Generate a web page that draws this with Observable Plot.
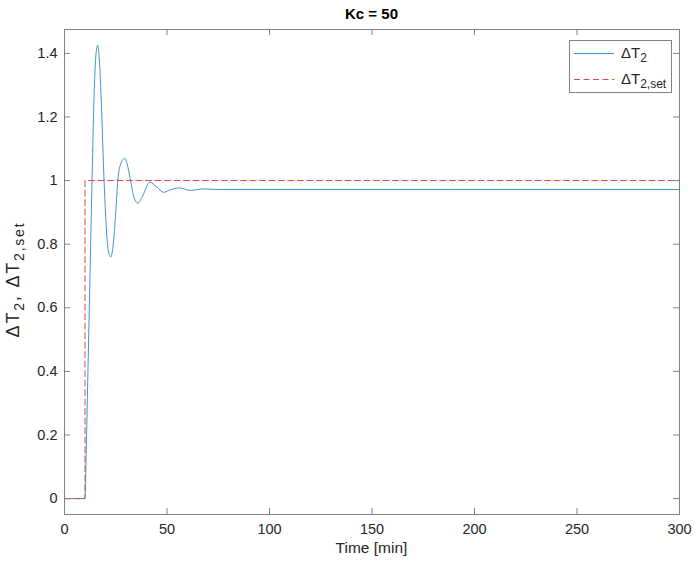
<!DOCTYPE html>
<html><head><meta charset="utf-8">
<script src="https://cdn.jsdelivr.net/npm/d3@7"></script>
<script src="https://cdn.jsdelivr.net/npm/@observablehq/plot@0.6"></script>
<style>body{margin:0;background:#fff} svg{display:block}</style>
</head><body><div id="chart"></div>
<script>
// Response ΔT2
const time = [0, 10, 10.6, 11.5, 12.5, 13.6, 14.5, 15.4, 16.2, 17.0, 18.0, 19.3, 20.4, 21.5, 22.6, 23.8, 25, 26, 27.3, 29.4, 31, 32.2, 34, 35.8, 38, 41.6, 45, 48.4, 52, 55.8, 61.5, 68, 75, 300];
const dT2  = [0, 0, 0.15, 0.42, 0.72, 1.05, 1.28, 1.40, 1.425, 1.38, 1.24, 1.0, 0.85, 0.775, 0.76, 0.80, 0.90, 1.0, 1.05, 1.07, 1.04, 1.0, 0.945, 0.929, 0.95, 0.995, 0.98, 0.963, 0.972, 0.977, 0.969, 0.974, 0.972, 0.972];
// Setpoint ΔT2,set
const setTime = [0, 10, 10, 300];
const setVal  = [0, 0, 1, 1];
const xTicks = [0, 50, 100, 150, 200, 250, 300];
const yTicks = [0, 0.2, 0.4, 0.6, 0.8, 1, 1.2, 1.4];
const titleText = "Kc = 50";
const xLabel = "Time [min]";

const W = 696, H = 564, mL = 64, mR = 17, mT = 29, mB = 50;
const iw = W - mL - mR, ih = H - mT - mB;
const font = "'Liberation Sans', Arial, Helvetica, sans-serif";
const axisColor = "#808080";
const blue = "#3d95c8", red = "#d84a4a";
const resp = time.map((t, i) => ({t, v: dT2[i]}));
const sp = setTime.map((t, i) => ({t, v: setVal[i]}));

const chart = Plot.plot({
  width: W, height: H, marginLeft: mL, marginRight: mR, marginTop: mT, marginBottom: mB,
  style: {fontFamily: font, fontSize: "14px", color: "#262626", background: "#fff"},
  x: {domain: [0, 300]},
  y: {domain: [-0.05, 1.475]},
  marks: [
    Plot.line(resp, {x: "t", y: "v", stroke: blue, strokeWidth: 1, curve: "monotone-x"}),
    Plot.line(sp, {x: "t", y: "v", stroke: red, strokeWidth: 1, strokeDasharray: "6,3.5"}),
    Plot.frame({stroke: axisColor}),
    Plot.tickX(xTicks, {x: d => d, stroke: axisColor, insetTop: ih - 6}),
    Plot.tickX(xTicks, {x: d => d, stroke: axisColor, insetBottom: ih - 6}),
    Plot.tickY(yTicks, {y: d => d, stroke: axisColor, insetRight: iw - 6}),
    Plot.tickY(yTicks, {y: d => d, stroke: axisColor, insetLeft: iw - 6}),
    Plot.axisX(xTicks, {tickSize: 0, tickPadding: 9, label: null, fontSize: 14.5, tickFormat: d => String(d)}),
    Plot.axisY(yTicks, {tickSize: 0, tickPadding: 7, label: null, fontSize: 14.5, tickFormat: d => String(d)})
  ]
});
document.getElementById("chart").appendChild(chart);

const svg = d3.select(chart);
svg.append("text").attr("x", mL + iw / 2).attr("y", 19).attr("text-anchor", "middle")
  .attr("font-family", font).attr("font-weight", "bold").attr("font-size", 15).attr("fill", "#000").text(titleText);
svg.append("text").attr("x", mL + iw / 2).attr("y", 553).attr("text-anchor", "middle")
  .attr("font-family", font).attr("font-size", 15.5).attr("fill", "#262626").text(xLabel);

function subText(sel, parts, subSize, shift) {
  let prevSub = false;
  parts.forEach(([s, sub]) => {
    const t = sel.append("tspan").text(s);
    if (sub) { t.attr("font-size", subSize).attr("dy", shift); prevSub = true; }
    else { t.attr("dy", prevSub ? -shift : 0); prevSub = false; }
  });
}
const yl = svg.append("text").attr("transform", `translate(19,${mT + ih / 2 + 8}) rotate(-90)`)
  .attr("text-anchor", "middle").attr("font-family", font).attr("font-size", 18).attr("fill", "#262626")
  .attr("letter-spacing", 1.8);
subText(yl, [["ΔT"], ["2", true], [", ΔT"], ["2,set", true]], 14, 5);

// legend
const lg = svg.append("g");
lg.append("rect").attr("x", 569.5).attr("y", 40.5).attr("width", 102).attr("height", 52)
  .attr("fill", "#fff").attr("stroke", axisColor).attr("stroke-width", 1);
lg.append("line").attr("x1", 574).attr("x2", 614).attr("y1", 53.5).attr("y2", 53.5)
  .attr("stroke", blue).attr("stroke-width", 1);
lg.append("line").attr("x1", 574).attr("x2", 614).attr("y1", 79.5).attr("y2", 79.5)
  .attr("stroke", red).attr("stroke-width", 1).attr("stroke-dasharray", "6,3.5");
const t1 = lg.append("text").attr("x", 621).attr("y", 58).attr("text-anchor", "start")
  .attr("font-family", font).attr("font-size", 15).attr("fill", "#262626");
subText(t1, [["ΔT"], ["2", true]], 12, 4);
const t2 = lg.append("text").attr("x", 621).attr("y", 84).attr("text-anchor", "start")
  .attr("font-family", font).attr("font-size", 15).attr("fill", "#262626");
subText(t2, [["ΔT"], ["2,set", true]], 12, 4);
</script>
</body></html>
